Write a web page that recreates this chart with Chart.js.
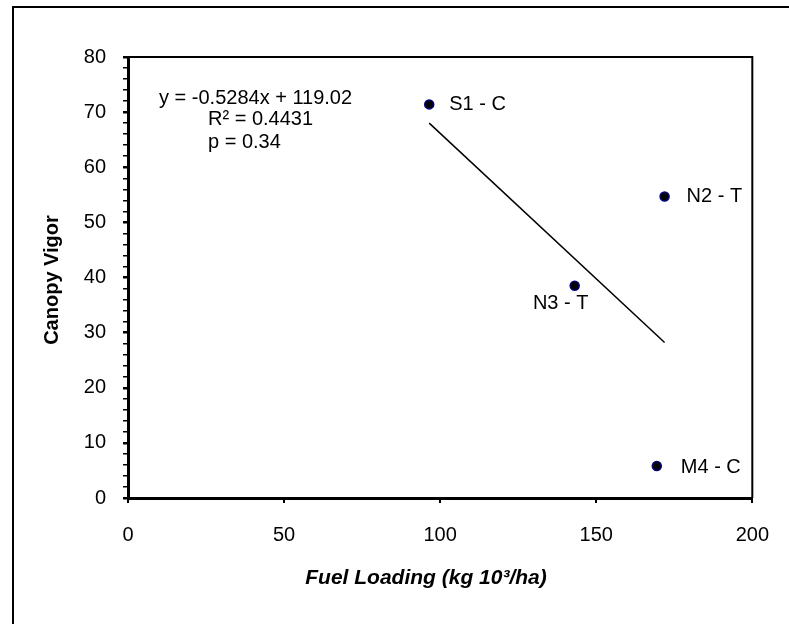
<!DOCTYPE html>
<html>
<head>
<meta charset="utf-8">
<script src="https://cdn.jsdelivr.net/npm/chart.js@4.4.1/dist/chart.umd.min.js"></script>
<style>
  html, body { margin: 0; padding: 0; background: #fff; }
  #wrap { position: relative; width: 789px; height: 624px; }
</style>
</head>
<body>
<div id="wrap"><canvas id="chart" width="789" height="624"></canvas></div>
<script>
const siteNames = ['S1 - C', 'N2 - T', 'N3 - T', 'M4 - C'];
const fuelLoading = [96.5, 171.9, 143.1, 169.4];
const canopyVigor = [71.4, 54.7, 38.5, 5.8];
const trendX = [96.5, 171.9];
const trendY = [68.0, 28.2];
const equationLines = ['y = -0.5284x + 119.02', 'R\u00b2 = 0.4431', 'p = 0.34'];
const xTicks = [0, 50, 100, 150, 200];
const yTicks = [0, 10, 20, 30, 40, 50, 60, 70, 80];

const FONT = "'Liberation Sans', Arial, sans-serif";

// label offsets from each point [dx, dy, align]
const labelPlace = [[20, 0, 'left'], [22, 0, 'left'], [-14, 18, 'center'], [24, 1, 'left']];

const extras = {
    id: 'extras',
    beforeDraw(chart) {
        const ctx = chart.ctx;
        ctx.save();
        ctx.strokeStyle = '#000';
        ctx.lineWidth = 2;
        ctx.strokeRect(13, 7, 800, 640);
        ctx.restore();
    },
    afterDraw(chart) {
        const { ctx, chartArea: a, scales } = chart;
        ctx.save();
        // top and right frame of plot area
        ctx.strokeStyle = '#000';
        ctx.lineWidth = 2;
        ctx.beginPath();
        ctx.moveTo(a.left, a.top);
        ctx.lineTo(a.right, a.top);
        ctx.lineTo(a.right, a.bottom);
        ctx.stroke();

        ctx.fillStyle = '#000';
        ctx.textBaseline = 'middle';
        ctx.font = '20px ' + FONT;
        siteNames.forEach((name, i) => {
            const px = scales.x.getPixelForValue(fuelLoading[i]);
            const py = scales.y.getPixelForValue(canopyVigor[i]);
            const [dx, dy, al] = labelPlace[i];
            ctx.textAlign = al;
            ctx.fillText(name, px + dx, py + dy);
        });

        // regression text
        ctx.textAlign = 'left';
        ctx.fillText(equationLines[0], a.left + 31, a.top + 41);
        ctx.fillText(equationLines[1], a.left + 80, a.top + 62);
        ctx.fillText(equationLines[2], a.left + 80, a.top + 85);

        // axis titles
        ctx.font = 'bold 20px ' + FONT;
        ctx.textAlign = 'center';
        ctx.save();
        ctx.translate(52, 280);
        ctx.rotate(-Math.PI / 2);
        ctx.fillText('Canopy Vigor', 0, 0);
        ctx.restore();
        ctx.font = 'italic bold 21px ' + FONT;
        ctx.fillText('Fuel Loading (kg 10\u00b3/ha)', 426, 578);
        ctx.restore();
    }
};

new Chart(document.getElementById('chart'), {
    type: 'scatter',
    data: {
        datasets: [
            {
                label: 'Sites',
                data: fuelLoading.map((x, i) => ({ x: x, y: canopyVigor[i] })),
                pointRadius: 4.5,
                pointBackgroundColor: '#000',
                pointBorderColor: '#000080',
                pointBorderWidth: 1.5,
                showLine: false
            },
            {
                label: 'Trend',
                data: trendX.map((x, i) => ({ x: x, y: trendY[i] })),
                showLine: true,
                borderColor: '#000',
                borderWidth: 1.5,
                pointRadius: 0
            }
        ]
    },
    options: {
        responsive: false,
        animation: false,
        layout: { padding: { top: 57, right: 35, left: 0, bottom: 0 } },
        plugins: { legend: { display: false }, tooltip: { enabled: false } },
        scales: {
            x: {
                type: 'linear',
                min: xTicks[0],
                max: xTicks[xTicks.length - 1],
                afterFit: (s) => { s.height = 126; },
                afterBuildTicks: (s) => { s.ticks = xTicks.map(v => ({ value: v })); },
                border: { color: '#000', width: 3 },
                grid: { drawOnChartArea: false, drawTicks: true, tickLength: 5, color: '#000', lineWidth: 2 },
                ticks: { color: '#000', font: { family: FONT, size: 20 }, padding: 20, maxRotation: 0 }
            },
            y: {
                type: 'linear',
                min: yTicks[0],
                max: yTicks[yTicks.length - 1],
                afterFit: (s) => { s.width = 128; },
                border: { color: '#000', width: 3 },
                grid: {
                    drawOnChartArea: false, drawTicks: true, tickLength: 5, color: '#000',
                    lineWidth: (c) => (c.tick && c.tick.value % 10 === 0 ? 2.5 : 1.5)
                },
                ticks: {
                    stepSize: 2,
                    autoSkip: false,
                    color: '#000',
                    font: { family: FONT, size: 20 },
                    padding: 17,
                    callback: (v) => (yTicks.includes(v) ? String(v) : '')
                }
            }
        }
    },
    plugins: [extras]
});
</script>
</body>
</html>
